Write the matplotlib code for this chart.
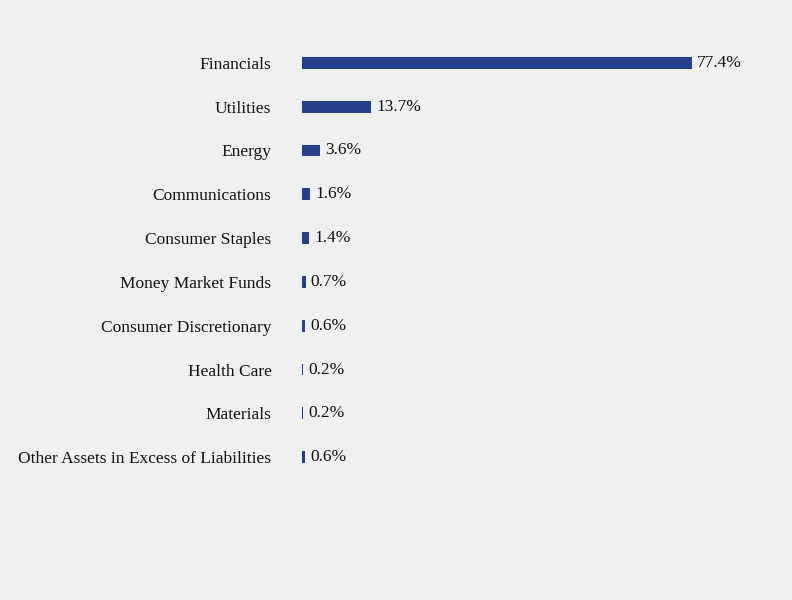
import matplotlib.pyplot as plt

categories = ["Financials", "Utilities", "Energy", "Communications", "Consumer Staples",
              "Money Market Funds", "Consumer Discretionary", "Health Care", "Materials",
              "Other Assets in Excess of Liabilities"]
values = [77.4, 13.7, 3.6, 1.6, 1.4, 0.7, 0.6, 0.2, 0.2, 0.6]
labels = ["77.4%", "13.7%", "3.6%", "1.6%", "1.4%", "0.7%", "0.6%", "0.2%", "0.2%", "0.6%"]

plt.rcParams["font.family"] = "Liberation Serif"
bg = "#f0f0f0"
fig = plt.figure(figsize=(7.92, 6.0), dpi=100, facecolor=bg)
ax = fig.add_axes([302 / 792, 121 / 600, 490 / 792, 438 / 600], facecolor=bg)

ys = list(range(len(categories)))
ax.barh(ys, values, height=0.27, color="#253f8c")
for y, v, t in zip(ys, values, labels):
    ax.text(v + 1.0, y, t, va="center", ha="left", fontsize=12.5, color="#111111")

ax.set_xlim(0, 490 / 5.04)
ax.set_ylim(len(categories) - 0.5, -0.5)
ax.set_yticks(ys)
ax.set_yticklabels(categories, fontsize=12.5, color="#111111")
ax.tick_params(axis="y", length=0, pad=22)
ax.set_xticks([])
for s in ax.spines.values():
    s.set_visible(False)

fig.savefig("out.png", dpi=100, facecolor=bg)
